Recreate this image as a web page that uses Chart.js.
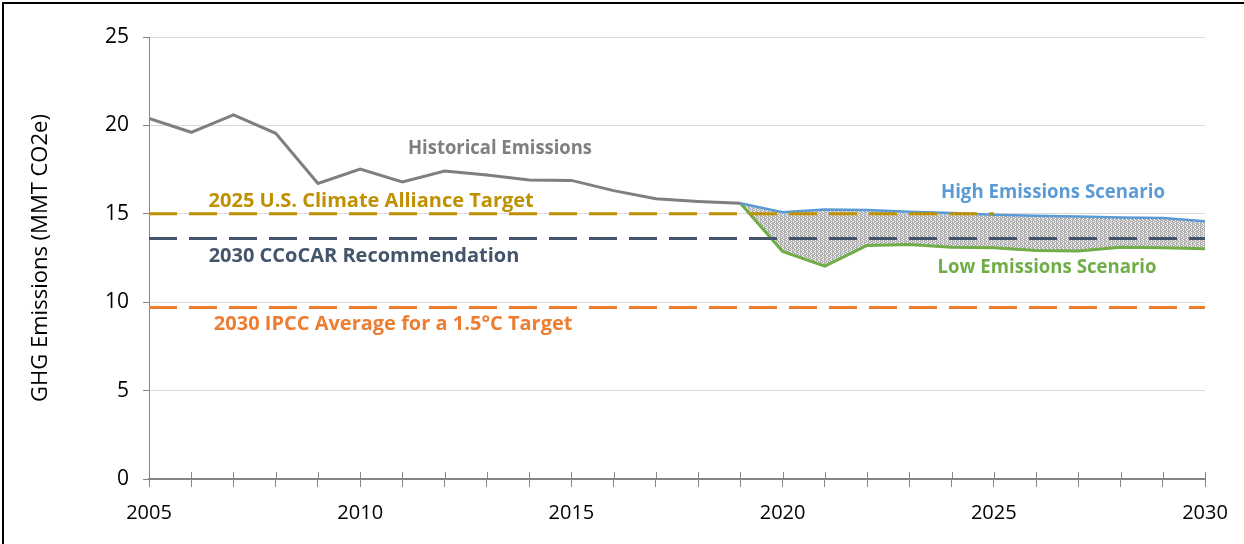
<!DOCTYPE html>
<html>
<head>
<meta charset="utf-8">
<script src="https://cdn.jsdelivr.net/npm/chart.js@4"></script>
<style>
  html, body { margin: 0; padding: 0; background: #fff; }
  #wrap { position: relative; width: 1244px; height: 544px; }
  #frame { position: absolute; left: 2px; top: 2px; right: 0; bottom: 0; border-top: 2px solid #000; border-left: 2px solid #000; pointer-events: none; }
</style>
</head>
<body>
<div id="wrap">
  <canvas id="chart" width="1244" height="544"></canvas>
  <div id="frame"></div>
</div>
<script>
const years = [2005, 2006, 2007, 2008, 2009, 2010, 2011, 2012, 2013, 2014, 2015, 2016, 2017,
  2018, 2019, 2020, 2021, 2022, 2023, 2024, 2025, 2026, 2027, 2028, 2029, 2030];
const historical = [20.40, 19.61, 20.59, 19.55, 16.72, 17.53, 16.80, 17.42, 17.19, 16.91, 16.89,
  16.31, 15.85, 15.70, 15.60];
const scenarioYears = [2019, 2020, 2021, 2022, 2023, 2024, 2025, 2026, 2027, 2028, 2029, 2030];
const highScenario = [15.60, 15.09, 15.25, 15.21, 15.11, 15.04, 14.95, 14.89, 14.85, 14.79, 14.76, 14.58];
const lowScenario = [15.60, 12.87, 12.04, 13.21, 13.26, 13.11, 13.08, 12.93, 12.89, 13.11, 13.08, 13.02];
const allianceTarget = 15.0;   // 2005 - 2025
const ccocarTarget = 13.6;     // 2005 - 2030
const ipccTarget = 9.7;        // 2005 - 2030
const yTicks = [0, 5, 10, 15, 20, 25];

const pts = (xs, ys) => xs.map((x, i) => ({ x: x, y: ys[i] }));

// dotted grey fill like the original
const pat = document.createElement("canvas");
pat.width = 4; pat.height = 4;
const pctx = pat.getContext("2d");
pctx.fillStyle = "#ffffff";
pctx.fillRect(0, 0, 4, 4);
pctx.fillStyle = "#b4b4b4";
[[0,0],[1,0],[2,0],[0,1],[2,1],[3,1],[0,2],[1,2],[2,2],[1,3],[3,3],[0,3]].forEach(([a, b]) => pctx.fillRect(a, b, 1, 1));
const fillPattern = document.getElementById("chart").getContext("2d").createPattern(pat, "repeat");

const labels = [
  { text: "Historical Emissions", x: 2013.31, y: 18.70, color: "#7f7f7f", w: 184 },
  { text: "2025 U.S. Climate Alliance Target", x: 2010.26, y: 15.70, color: "#bf9000", w: 328 },
  { text: "2030 CCoCAR Recommendation", x: 2010.09, y: 12.60, color: "#44546a", w: 314 },
  { text: "2030 IPCC Average for a 1.5°C Target", x: 2010.78, y: 8.74, color: "#ed7d31", w: 364 },
  { text: "High Emissions Scenario", x: 2026.40, y: 16.21, color: "#5b9bd5", w: 224 },
  { text: "Low Emissions Scenario", x: 2026.26, y: 11.96, color: "#70ad47", w: 219 }
];

const labelPlugin = {
  id: "seriesLabels",
  afterDatasetsDraw(chart) {
    const ctx = chart.ctx;
    const xs = chart.scales.x, ys = chart.scales.y;
    ctx.save();
    ctx.font = "bold 20px 'Open Sans'";
    ctx.textAlign = "center";
    ctx.textBaseline = "middle";
    labels.forEach(l => {
      ctx.fillStyle = l.color;
      ctx.fillText(l.text, xs.getPixelForValue(l.x), ys.getPixelForValue(l.y), l.w);
    });
    ctx.restore();
  }
};

// x axis tick marks cross the axis line
const crossTicks = {
  id: "crossTicks",
  afterDatasetsDraw(chart) {
    const ctx = chart.ctx;
    const xs = chart.scales.x;
    const y0 = chart.chartArea.bottom;
    ctx.save();
    ctx.strokeStyle = "#868686";
    ctx.lineWidth = 1;
    years.forEach(yr => {
      const px = Math.round(xs.getPixelForValue(yr)) + 0.5;
      ctx.beginPath();
      ctx.moveTo(px, y0 - 7);
      ctx.lineTo(px, y0);
      ctx.stroke();
    });
    ctx.restore();
  }
};

const dash = [28, 12];

new Chart(document.getElementById("chart"), {
  type: "line",
  data: {
    datasets: [
      {
        label: "2025 U.S. Climate Alliance Target",
        data: pts([years[0], 2025], [allianceTarget, allianceTarget]),
        borderColor: "#bf9000", borderWidth: 3, borderDash: dash, pointRadius: 0, order: 0
      },
      {
        label: "2030 CCoCAR Recommendation",
        data: pts([years[0], years[years.length - 1]], [ccocarTarget, ccocarTarget]),
        borderColor: "#44546a", borderWidth: 3, borderDash: dash, pointRadius: 0, order: 0
      },
      {
        label: "2030 IPCC Average for a 1.5°C Target",
        data: pts([years[0], years[years.length - 1]], [ipccTarget, ipccTarget]),
        borderColor: "#ed7d31", borderWidth: 3, borderDash: dash, pointRadius: 0, order: 0
      },
      {
        label: "Historical Emissions",
        data: pts(years.slice(0, historical.length), historical),
        borderColor: "#7f7f7f", borderWidth: 3, pointRadius: 0, order: 1
      },
      {
        label: "High Emissions Scenario",
        data: pts(scenarioYears, highScenario),
        borderColor: "#5b9bd5", borderWidth: 2.5, pointRadius: 0, order: 1
      },
      {
        label: "Low Emissions Scenario",
        data: pts(scenarioYears, lowScenario),
        borderColor: "#70ad47", borderWidth: 3, pointRadius: 0, order: 1,
        fill: "-1", backgroundColor: fillPattern
      }
    ]
  },
  options: {
    responsive: false,
    animation: false,
    layout: { padding: { left: 0, right: 39, top: 37, bottom: 0 } },
    plugins: {
      legend: { display: false },
      tooltip: { enabled: false },
      filler: { drawTime: "beforeDatasetsDraw" }
    },
    scales: {
      x: {
        type: "linear",
        min: years[0],
        max: years[years.length - 1],
        afterBuildTicks: (scale) => { scale.ticks = years.map(v => ({ value: v })); },
        afterFit: (scale) => { scale.height = 65; },
        border: { display: true, color: "#868686", width: 2 },
        grid: { drawOnChartArea: false, drawTicks: true, tickLength: 8, color: "#868686" },
        ticks: {
          autoSkip: false,
          maxRotation: 0,
          padding: 14,
          color: "#000",
          font: { family: "'Open Sans'", size: 20 },
          callback: (v) => (v % 5 === 0 ? String(v) : "")
        }
      },
      y: {
        min: 0,
        max: 25,
        afterBuildTicks: (scale) => { scale.ticks = yTicks.map(v => ({ value: v })); },
        afterFit: (scale) => { scale.width = 149; },
        border: { display: true, color: "#868686", width: 1 },
        grid: { color: "#d9d9d9", lineWidth: 1, tickLength: 6, tickColor: "#868686" },
        ticks: {
          padding: 14,
          color: "#000",
          font: { family: "'Open Sans'", size: 21 }
        },
        title: {
          display: true,
          text: "GHG Emissions (MMT CO2e)",
          color: "#000",
          font: { family: "'Open Sans'", size: 22 },
          padding: { top: 28, bottom: 0 }
        }
      }
    }
  },
  plugins: [labelPlugin, crossTicks]
});
</script>
</body>
</html>
